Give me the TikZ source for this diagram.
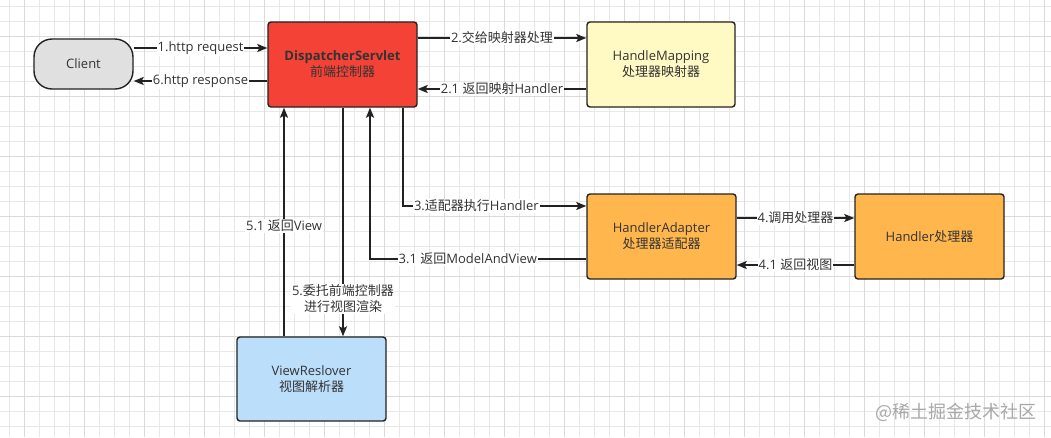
\documentclass[tikz,border=0pt]{standalone}
\usepackage{fontspec}
\setmainfont{Open Sans}
\newfontfamily\cjk{Noto Sans CJK SC}
\usepackage{tikz}
\usetikzlibrary{arrows.meta,calc}

\definecolor{txt}{HTML}{333333}
\definecolor{edge}{HTML}{222222}
\definecolor{gridminor}{HTML}{E8E8E8}
\definecolor{gridmajor}{HTML}{DADADA}
\definecolor{clientgray}{HTML}{E0E0E0}
\definecolor{dsred}{HTML}{F44336}
\definecolor{hmyellow}{HTML}{FFF9C4}
\definecolor{haorange}{HTML}{FFB74D}
\definecolor{vrblue}{HTML}{BBDEFB}
\definecolor{wmgray}{HTML}{A8A8A8}

\begin{document}
\begin{tikzpicture}[x=1pt,y=-1pt]

      %boxes and arrows
      \tikzset{
      box/.style={draw=edge, line width=1.4pt, rounded corners=3pt,
        minimum width=149pt, minimum height=85pt, align=center, text=txt,
        font=\fontsize{13}{16}\selectfont},
      flow/.style={draw=edge, line width=1.4pt,
        -{Stealth[length=10pt,width=8pt,inset=2pt]}},
      lbl/.style={fill=white, text=txt, inner sep=1pt, align=center,
        font=\fontsize{13}{16}\selectfont},
      }

      %background grid
      \useasboundingbox (0,0) rectangle (1051,437);
      \fill[white] (0,0) rectangle (1051,437);
      \foreach \x in {9.3,24.3,...,1051} \draw[gridminor, line width=0.8pt] (\x,0) -- (\x,437);
      \foreach \y in {6.7,21.7,...,437} \draw[gridminor, line width=0.8pt] (0,\y) -- (1051,\y);
      \foreach \x in {24.3,84.3,...,1051} \draw[gridmajor, line width=0.8pt] (\x,0) -- (\x,437);
      \foreach \y in {36.7,96.7,...,437} \draw[gridmajor, line width=0.8pt] (0,\y) -- (1051,\y);

      %client
      \node[box, fill=clientgray, minimum width=99pt, minimum height=50pt, rounded corners=18pt] (client) at (83.5,64) {Client};
      %front controller
      \node[box, fill=dsred] (ds) at (342.5,64.5) {\textbf{DispatcherServlet}\\{\cjk 前端控制器}};
      %mapping
      \node[box, fill=hmyellow, minimum width=148pt] (hm) at (661,64.5) {HandleMapping\\{\cjk 处理器映射器}};
      %adapter
      \node[box, fill=haorange] (ha) at (661.5,236.5) {HandlerAdapter\\{\cjk 处理器适配器}};
      %handler
      \node[box, fill=haorange] (hd) at (929.5,236.5) {Handler{\cjk 处理器}};
      %view resolver
      \node[box, fill=vrblue, minimum height=84pt] (vr) at (311.5,379) {ViewReslover\\{\cjk 视图解析器}};

      %client <-> controller
      \draw[flow] ($(client.east|-ds.west)+(0,-16.5)$) -- node[lbl]{1.http request} ($(ds.west)+(0,-16.5)$);
      \draw[flow] ($(ds.west)+(0,16.5)$) -- node[lbl]{6.http response} ($(client.east|-ds.west)+(0,16.5)$);

      %controller <-> mapping
      \draw[flow] ($(ds.east)+(0,-26.5)$) -- node[lbl]{2.{\cjk 交给映射器处理}} ($(hm.west)+(0,-26.5)$);
      \draw[flow] ($(hm.west)+(0,24.5)$) -- node[lbl]{2.1 {\cjk 返回映射}Handler} ($(ds.east)+(0,24.5)$);

      %controller <-> adapter
      \draw[flow] ($(ds.south)+(60.5,0)$) |- node[lbl, pos=0.7]{3.{\cjk 适配器执行}Handler} ($(ha.west)+(0,-30.5)$);
      \draw[flow] ($(ha.west)+(0,22.5)$) -| node[lbl, pos=0.274]{3.1 {\cjk 返回}ModelAndView} ($(ds.south)+(27.5,0)$);

      %adapter <-> handler
      \draw[flow] ($(ha.east)+(0,-18.5)$) -- node[lbl]{4.{\cjk 调用处理器}} ($(hd.west)+(0,-18.5)$);
      \draw[flow] ($(hd.west)+(0,28.5)$) -- node[lbl]{4.1 {\cjk 返回视图}} ($(ha.east)+(0,28.5)$);

      %controller <-> view resolver
      \draw[flow] ($(ds.south)+(0.5,0)$) -- node[lbl, pos=0.835]{5.{\cjk 委托前端控制器}\\{\cjk 进行视图渲染}} ($(vr.north)+(31.5,0)$);
      \draw[flow] ($(vr.north)+(-27.5,0)$) -- node[lbl, pos=0.483]{5.1 {\cjk 返回}View} ($(ds.south)+(-58.5,0)$);

      %watermark
      \node[text=wmgray, font=\cjk\fontsize{18}{20}\selectfont, inner sep=0pt] (wm) at (956,412) {@稀土掘金技术社区};
    \end{tikzpicture}
\end{document}
